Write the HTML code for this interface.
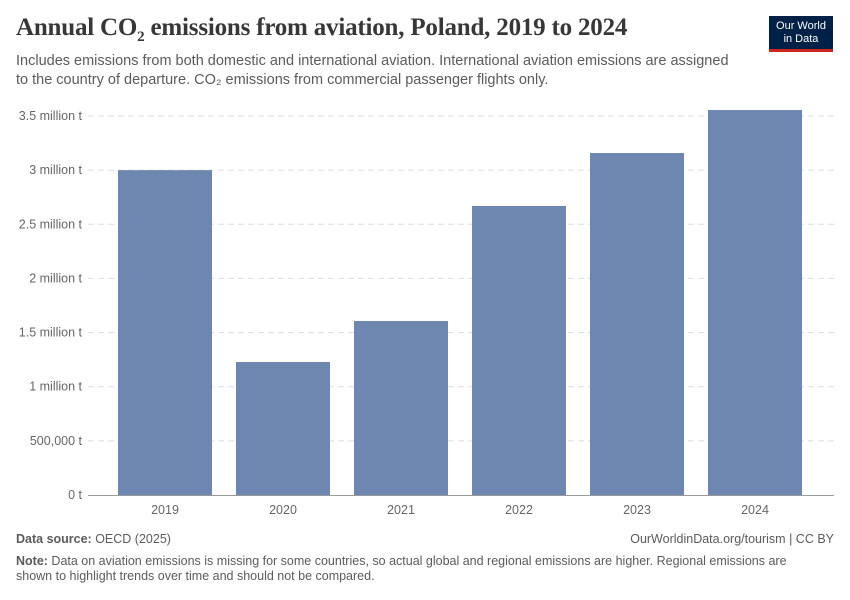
<!DOCTYPE html>
<html><head><meta charset="utf-8"><style>
body{margin:0;background:#fff;font-family:"Liberation Sans",sans-serif;}
#wrap{position:relative;width:850px;height:600px;overflow:hidden;}
.title{position:absolute;left:16px;top:14px;font-family:"Liberation Serif",serif;font-size:25px;font-weight:bold;color:#373737;letter-spacing:-0.2px;}
.sub{position:absolute;left:16px;top:52px;font-size:14.5px;line-height:19px;color:#5b5b5b;width:722px;}
.logo{position:absolute;left:769px;top:16px;width:64px;height:36px;background:#002147;color:#fff;font-size:11px;text-align:center;line-height:13px;padding-top:4px;box-sizing:border-box;border-bottom:3px solid #ce261e;}
.foot{position:absolute;left:16px;font-size:12.5px;color:#5b5b5b;}
</style></head><body><div id="wrap">
<div class="title">Annual CO<sub style="font-size:15px">2</sub> emissions from aviation, Poland, 2019 to 2024</div>
<div class="sub">Includes emissions from both domestic and international aviation. International aviation emissions are assigned<br>to the country of departure. CO₂ emissions from commercial passenger flights only.</div>
<div class="logo">Our World<br>in Data</div>
<svg id="plot" width="850" height="600" style="position:absolute;left:0;top:0"></svg>
<div class="foot" style="top:532px"><b>Data source:</b> OECD (2025)</div>
<div class="foot" style="top:532px;left:auto;right:16px">OurWorldinData.org/tourism | CC BY</div>
<div class="foot" style="top:554px;width:800px;line-height:15px"><b>Note:</b> Data on aviation emissions is missing for some countries, so actual global and regional emissions are higher. Regional emissions are shown to highlight trends over time and should not be compared.</div>
</div>
<script>
const categories=["2019","2020","2021","2022","2023","2024"];
const values=[3000000,1228000,1607000,2669000,3158000,3555000];
const ticks=[0,500000,1000000,1500000,2000000,2500000,3000000,3500000];
const tickLabels=["0 t","500,000 t","1 million t","1.5 million t","2 million t","2.5 million t","3 million t","3.5 million t"];
const svg=document.getElementById('plot');const NS='http://www.w3.org/2000/svg';
const y0=495,y1=116,vmax=3500000,x0=106,band=118;
const y=v=>y0-(v/vmax)*(y0-y1);
function mk(t,a){const e=document.createElementNS(NS,t);for(const k in a)e.setAttribute(k,a[k]);svg.appendChild(e);return e;}
ticks.forEach((t,i)=>{
 if(t>0){const l=mk('line',{x1:88,x2:834,y1:y(t),y2:y(t),stroke:'#ddd','stroke-dasharray':'6,4'});
 
 }
 const tx=mk('text',{x:82,y:y(t)+4,'text-anchor':'end','font-size':12.5,fill:'#666','font-family':'Liberation Sans'});tx.textContent=tickLabels[i];
 
 
});
categories.forEach((c,i)=>{
 const r=mk('rect',{x:x0+i*band+12,y:y(values[i]),width:94,height:y0-y(values[i]),fill:'#6d87b0'});
 
 
 const tx=mk('text',{x:x0+i*band+59,y:514,'text-anchor':'middle','font-size':12.5,fill:'#666','font-family':'Liberation Sans'});tx.textContent=c;
 
 
});
const ax=mk('line',{x1:88,x2:834,y1:495.5,y2:495.5,stroke:'#999'});


</script></body></html>
